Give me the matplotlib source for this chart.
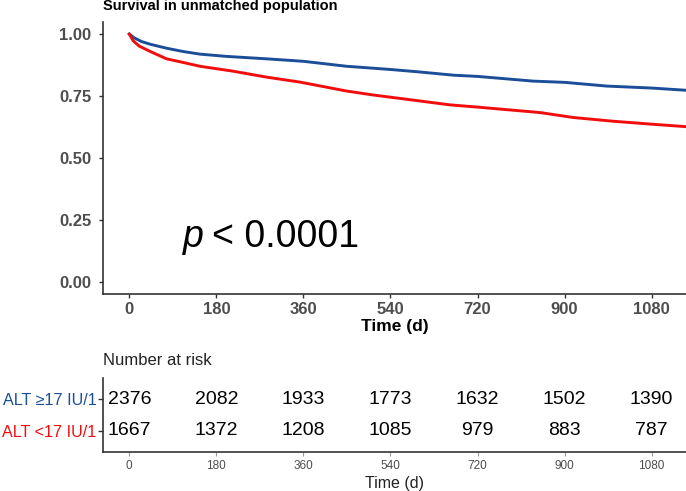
import numpy as np
import matplotlib
matplotlib.use("Agg")
import matplotlib.pyplot as plt

plt.rcParams['font.family'] = ['Liberation Sans', 'DejaVu Sans']

# Kaplan-Meier curves (time in days, survival probability)
t_high = [0, 10, 25, 45, 77, 110, 146, 200, 284, 360, 449, 540, 600, 670, 720, 835, 900, 987, 1080, 1151]
s_high = [1.0, 0.985, 0.97, 0.958, 0.943, 0.93, 0.919, 0.91, 0.90, 0.89, 0.87, 0.857, 0.847, 0.834,
          0.829, 0.81, 0.805, 0.79, 0.782, 0.773]
t_low = [0, 8, 20, 43, 77, 110, 146, 215, 284, 353, 449, 504, 580, 663, 720, 849, 918, 1000, 1080, 1151]
s_low = [1.0, 0.973, 0.952, 0.93, 0.90, 0.886, 0.87, 0.85, 0.826, 0.806, 0.77, 0.754, 0.735, 0.714,
         0.705, 0.683, 0.663, 0.648, 0.636, 0.626]

groups = ["ALT \u226517 IU/1", "ALT <17 IU/1"]
colors = ["#1A4E96", "#F20D0D"]

risk_times = [0, 180, 360, 540, 720, 900, 1080]
risk_high = [2376, 2082, 1933, 1773, 1632, 1502, 1390]
risk_low = [1667, 1372, 1208, 1085, 979, 883, 787]

xlim = (-55, 1151)
axis_col = "#333333"
tick_col = "#4D4D4D"

fig = plt.figure(figsize=(6.86, 4.91), dpi=100)

# survival panel
ax = fig.add_axes([0.1497, 0.4012, 0.8503, 0.5546])
ax.plot(t_high, s_high, color=colors[0], lw=2.1)
ax.plot(t_low, s_low, color=colors[1], lw=2.1)
ax.set_xlim(*xlim)
ax.set_ylim(-0.05, 1.05)
ax.set_xticks(risk_times)
ax.set_yticks([0, 0.25, 0.5, 0.75, 1.0])
ax.set_yticklabels(["0.00", "0.25", "0.50", "0.75", "1.00"])
for lab in ax.get_xticklabels() + ax.get_yticklabels():
    lab.set_fontweight('bold')
    lab.set_color(tick_col)
    lab.set_fontsize(12)
ax.tick_params(length=3, width=1, color=axis_col)
ax.tick_params(axis='y', pad=5)
ax.tick_params(axis='x', pad=3)
for side in ['top', 'right']:
    ax.spines[side].set_visible(False)
for side in ['left', 'bottom']:
    ax.spines[side].set_color(axis_col)
    ax.spines[side].set_linewidth(1.2)
ax.set_xlabel("Time (d)", fontsize=12.5, fontweight='bold', labelpad=1.5)

ax.text(111, 0.141, "p", fontsize=27, style='italic', va='baseline')
ax.text(170, 0.141, "< 0.0001", fontsize=27, va='baseline')

fig.text(0.1497, 1 - 10 / 491, "Survival in unmatched population", fontsize=10.5,
         fontweight='bold', va='baseline', ha='left')

# number at risk table
rt = fig.add_axes([0.1497, 0.0800, 0.8503, 0.1501])
rt.set_xlim(*xlim)
rt.set_ylim(0.35, 2.66)
for x, n in zip(risk_times, risk_high):
    rt.text(x, 2, str(n), ha='center', va='center', fontsize=14, color='black')
for x, n in zip(risk_times, risk_low):
    rt.text(x, 1, str(n), ha='center', va='center', fontsize=14, color='black')
rt.set_yticks([2, 1])
rt.set_yticklabels(groups, fontsize=11.6)
for lab, c in zip(rt.get_yticklabels(), colors):
    lab.set_color(c)
rt.set_xticks(risk_times)
rt.set_xticklabels([str(t) for t in risk_times], fontsize=8.5, color=tick_col)
rt.tick_params(axis='y', length=3.5, width=1, color=axis_col, pad=1)
rt.tick_params(axis='x', length=3, width=0.8, color='#999999', pad=3)
for side in ['top', 'right']:
    rt.spines[side].set_visible(False)
for side in ['left', 'bottom']:
    rt.spines[side].set_color(axis_col)
    rt.spines[side].set_linewidth(1.2)
rt.set_xlabel("Time (d)", fontsize=11.5, labelpad=2.5, color='#222222')

fig.text(103 / 686, 1 - 360.7 / 491, "Number at risk", fontsize=12, va='center',
         ha='left', color='#222222')

fig.savefig("out.png", dpi=100)
